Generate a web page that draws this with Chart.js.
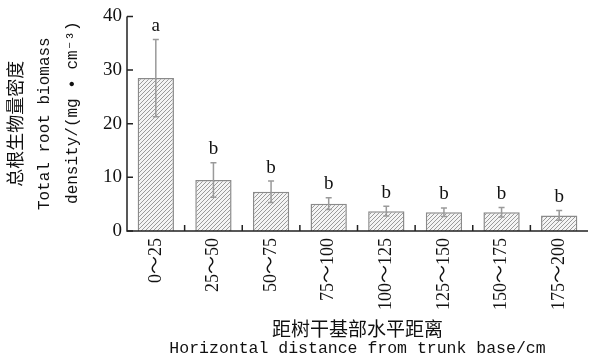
<!DOCTYPE html>
<html>
<head>
<meta charset="utf-8">
<script src="https://cdn.jsdelivr.net/npm/chart.js@4"></script>
<style>
  body { margin: 0; background: #fff; }
  canvas { display: block; }
</style>
</head>
<body>
<canvas id="biomass" width="590" height="359"></canvas>
<script>
// distance classes (cm) along the x axis
const categories = ['0～25', '25～50', '50～75', '75～100', '100～125', '125～150', '150～175', '175～200'];
// mean total root biomass density, mg/cm3
const biomass = [28.5, 9.5, 7.3, 5.1, 3.7, 3.5, 3.5, 2.9];
// error bar half lengths
const errors = [7.2, 3.2, 2.0, 1.1, 0.9, 0.8, 0.9, 0.9];
// significance letters above each bar
const letters = ['a', 'b', 'b', 'b', 'b', 'b', 'b', 'b'];
const yTicks = [0, 10, 20, 30, 40];

const serif = '"Liberation Serif", "Noto Sans CJK SC", serif';
const mono = '"Liberation Mono", "DejaVu Sans Mono", monospace';
const cjk = '"Noto Sans CJK SC", sans-serif';

// diagonal hatch fill for the bars
function hatch() {
    const c = document.createElement('canvas');
    c.width = 4; c.height = 4;
    const g = c.getContext('2d');
    g.fillStyle = '#f4f4f4';
    g.fillRect(0, 0, 4, 4);
    g.strokeStyle = '#9a9a9a';
    g.lineWidth = 1;
    g.beginPath();
    g.moveTo(0, 4); g.lineTo(4, 0);
    g.moveTo(-1, 1); g.lineTo(1, -1);
    g.moveTo(3, 5); g.lineTo(5, 3);
    g.stroke();
    return g.createPattern(c, 'repeat');
}

// axes, ticks, error bars, letters and titles
const extras = {
    id: 'extras',
    afterDatasetsDraw(chart) {
        const ctx = chart.ctx;
        const x = chart.scales.x, y = chart.scales.y;
        const area = chart.chartArea;
        const bars = chart.getDatasetMeta(0).data;
        ctx.save();

        // error bars
        ctx.strokeStyle = '#9a9a9a';
        ctx.lineWidth = 1.5;
        bars.forEach((b, i) => {
            const top = y.getPixelForValue(biomass[i] + errors[i]);
            const bot = y.getPixelForValue(biomass[i] - errors[i]);
            ctx.beginPath();
            ctx.moveTo(b.x, top); ctx.lineTo(b.x, bot);
            ctx.moveTo(b.x - 3, top); ctx.lineTo(b.x + 3, top);
            ctx.moveTo(b.x - 3, bot); ctx.lineTo(b.x + 3, bot);
            ctx.stroke();
            ctx.fillStyle = '#111';
            ctx.font = '19px ' + serif;
            ctx.textAlign = 'center';
            ctx.textBaseline = 'bottom';
            ctx.fillText(letters[i], b.x, top - 4);
        });

        // axis lines
        ctx.strokeStyle = '#222';
        ctx.lineWidth = 1.5;
        ctx.beginPath();
        ctx.moveTo(area.left, area.top);
        ctx.lineTo(area.left, area.bottom);
        ctx.lineTo(area.right, area.bottom);
        ctx.stroke();

        // inward ticks
        ctx.beginPath();
        yTicks.forEach(v => {
            const py = y.getPixelForValue(v);
            ctx.moveTo(area.left, py); ctx.lineTo(area.left + 6, py);
        });
        for (let i = 1; i < categories.length; i++) {
            const px = (x.getPixelForValue(i - 1) + x.getPixelForValue(i)) / 2;
            ctx.moveTo(px, area.bottom); ctx.lineTo(px, area.bottom - 6);
        }
        ctx.stroke();

        // y title, three rotated lines
        ctx.fillStyle = '#111';
        ctx.textAlign = 'center';
        ctx.textBaseline = 'middle';
        const cy = (area.top + area.bottom) / 2;
        [[15, cjk, 18, '总根生物量密度', cy],
         [45, mono, 16, 'Total root biomass', cy],
         [73, mono, 16, 'density/(mg • cm⁻³)', cy - 11]].forEach(([px, f, s, t, py]) => {
            ctx.save();
            ctx.translate(px, py);
            ctx.rotate(-Math.PI / 2);
            ctx.font = s + 'px ' + f;
            ctx.fillText(t, 0, 0);
            ctx.restore();
        });

        // x title, two lines
        const cx = (area.left + area.right) / 2;
        ctx.font = '19px ' + cjk;
        ctx.fillText('距树干基部水平距离', cx, 329);
        ctx.font = '16.5px ' + mono;
        ctx.fillText('Horizontal distance from trunk base/cm', cx, 349);
        ctx.restore();
    }
};

new Chart(document.getElementById('biomass'), {
    type: 'bar',
    data: {
        labels: categories,
        datasets: [{
            data: biomass,
            backgroundColor: hatch(),
            borderColor: '#8a8a8a',
            borderWidth: 1.5,
            barPercentage: 0.63,
            categoryPercentage: 1
        }]
    },
    options: {
        responsive: false,
        animation: false,
        layout: { padding: { top: 15, right: 2, left: 0, bottom: 0 } },
        plugins: { legend: { display: false }, tooltip: { enabled: false } },
        scales: {
            y: {
                min: 0, max: 40,
                afterFit: s => { s.width = 127; },
                afterBuildTicks: s => { s.ticks = yTicks.map(v => ({ value: v })); },
                ticks: { color: '#111', padding: 5, font: { family: serif, size: 19 } },
                grid: { display: false, drawTicks: false },
                border: { display: false }
            },
            x: {
                afterFit: s => { s.height = 128; },
                ticks: { color: '#111', padding: 7, minRotation: 90, maxRotation: 90,
                         font: { family: serif, size: 18 } },
                grid: { display: false, drawTicks: false },
                border: { display: false }
            }
        }
    },
    plugins: [extras]
});
</script>
</body>
</html>
